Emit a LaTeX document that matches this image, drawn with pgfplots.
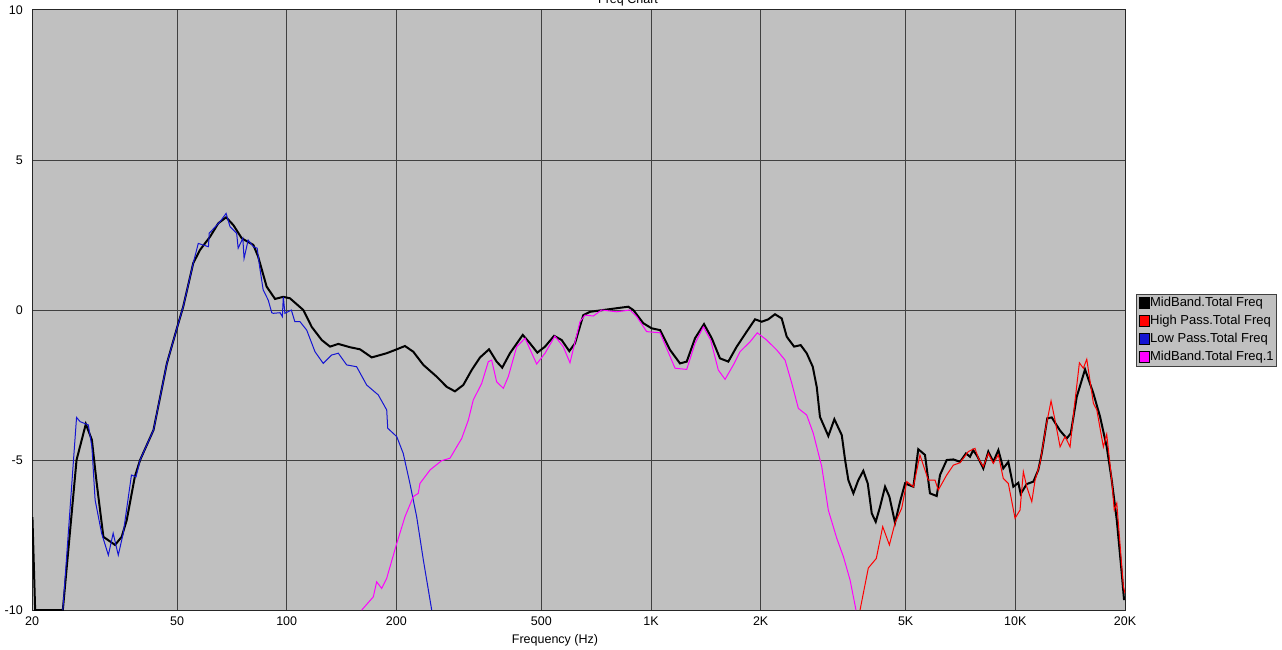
\documentclass[border=0pt]{standalone}
\usepackage{pgfplots}
\pgfplotsset{compat=1.18}
\usepackage{fontspec}
\setmainfont{Liberation Sans}

\definecolor{bgray}{HTML}{C0C0C0}
\definecolor{gridc}{HTML}{404040}
\definecolor{lpblue}{HTML}{1414D2}
\definecolor{hpred}{HTML}{FF0000}
\definecolor{mbmag}{HTML}{FF00FF}

\begin{document}
\fontsize{12.5bp}{15bp}\selectfont
\begin{tikzpicture}
\begin{axis}[
    name=ax,
    scale only axis, width=1093bp, height=600bp,
    xmode=log, xmin=20, xmax=20000, ymin=-10, ymax=10,
    xtick={20,50,100,200,500,1000,2000,5000,10000,20000},
    xticklabels={20,50,100,200,500,1K,2K,5K,10K,20K},
    xminorticks=false,
    ytick={-10,-5,0,5,10}, yticklabels={-10,-5,0,5,10},
    major tick length=0pt,
    grid=major, major grid style={gridc, line width=1bp},
    axis background/.style={fill=bgray},
    axis line style={black!85, line width=1bp},
    xticklabel style={inner sep=0pt, yshift=-7bp},
    yticklabel style={inner sep=0pt, xshift=-9bp},
    xlabel={Frequency (Hz)},
    xlabel style={at={(axis description cs:0.4785,0)}, anchor=north, yshift=-24bp, inner sep=0pt},
    legend cell align=left,
    legend style={at={(axis description cs:1.0101,0.5267)}, anchor=north west,
        draw=gridc, fill=bgray, line width=1bp,
        font=\fontsize{13bp}{16bp}\selectfont,
        inner xsep=2bp, inner ysep=2bp, row sep=4bp,
        nodes={inner sep=1bp, text height=9.5bp, text depth=2.5bp}},
    legend image code/.code={\filldraw[#1, draw=black, line width=0.6bp] (0bp,-5bp) rectangle (10bp,6bp);},
]

% MidBand.Total Freq
\addplot[black, line width=2bp] coordinates {
(20.05,-6.9) (20.4,-10) (24.3,-10) (26.5,-5.0) (28.1,-3.8) (29.2,-4.33) (30.1,-5.77)
(31.4,-7.56) (33.8,-7.83) (35.25,-7.56) (36.4,-7.0) (38.3,-5.56) (39.6,-5.0) (43.1,-4.0)
(46.9,-1.78) (50.1,-0.56) (52.0,0.11) (55.4,1.56) (57.8,2.0) (61.6,2.44) (64.9,2.89)
(68.2,3.09) (71.4,2.83) (75.3,2.39) (81,2.17) (83.5,1.78) (88.1,0.78) (92.9,0.37)
(97.9,0.44) (102.1,0.39) (111.1,0) (117.1,-0.56) (124.8,-1.0) (131.5,-1.22) (138.6,-1.13)
(149.2,-1.24) (159,-1.31) (171.2,-1.58) (188.2,-1.44) (200.5,-1.31) (211.2,-1.2)
(222.6,-1.39) (237.2,-1.83) (258,-2.22) (274.9,-2.56) (289.6,-2.71) (305.3,-2.5)
(322,-2.0) (339.5,-1.58) (359.3,-1.31) (377,-1.72) (390.6,-1.92) (410.1,-1.44)
(444.6,-0.83) (465.4,-1.11) (487.5,-1.42) (511.9,-1.22) (542,-0.86) (568.5,-1.0)
(596.6,-1.37) (618.6,-1.11) (651.9,-0.17) (680,-0.06) (739.7,0) (805.1,0.06) (866.2,0.11)
(894.3,0) (952.4,-0.44) (1004,-0.61) (1059,-0.67) (1128,-1.33) (1201,-1.78) (1253,-1.72)
(1321,-0.94) (1398,-0.47) (1468,-0.94) (1546,-1.61) (1630,-1.72) (1719,-1.22) (1831,-0.72)
(1930,-0.31) (2014,-0.39) (2099,-0.31) (2189,-0.14) (2284,-0.28) (2358,-0.89) (2470,-1.22)
(2575,-1.17) (2675,-1.44) (2779,-1.89) (2850,-2.56) (2909,-3.56) (3067,-4.2) (3186,-3.64)
(3339,-4.17) (3410,-5.0) (3481,-5.67) (3593,-6.11) (3707,-5.67) (3826,-5.36) (3935,-5.78)
(4036,-6.78) (4138,-7.06) (4253,-6.56) (4390,-5.89) (4511,-6.22) (4675,-7.09) (4825,-6.39)
(4981,-5.78) (5250,-5.89) (5415,-4.64) (5650,-4.83) (5830,-6.11) (6084,-6.2) (6212,-5.5)
(6481,-5.0) (6760,-4.98) (7050,-5.06) (7321,-4.78) (7510,-4.89) (7660,-4.67) (7863,-4.87)
(8168,-5.28) (8430,-4.72) (8700,-5.06) (8983,-4.67) (9265,-5.28) (9566,-5.06) (9873,-5.89)
(10190,-5.76) (10343,-6.13) (10748,-5.8) (11207,-5.72) (11561,-5.33) (11815,-4.78)
(12238,-3.61) (12587,-3.58) (13267,-4.02) (13840,-4.28) (14195,-4.11) (14743,-2.89)
(15533,-1.98) (16377,-2.78) (17086,-3.56) (17817,-4.56) (18392,-5.67) (18988,-7.0)
(19594,-8.78) (19886,-9.67)
};

% High Pass.Total Freq
\addplot[hpred, line width=1bp] coordinates {
(3748,-10) (3949,-8.6) (4153,-8.28) (4325,-7.22) (4511,-7.83) (4675,-7.1) (4878,-6.6)
(5035,-5.72) (5250,-5.89) (5472,-4.83) (5770,-5.67) (6019,-5.67) (6145,-6.0) (6481,-5.5)
(6760,-5.17) (7050,-5.09) (7429,-4.72) (7750,-4.61) (7914,-4.94) (8168,-5.22) (8430,-4.78)
(8700,-5.11) (8983,-4.83) (9265,-5.61) (9566,-5.78) (9981,-6.94) (10300,-6.67) (10519,-5.39)
(10748,-5.89) (11094,-6.39) (11328,-5.67) (11688,-5.11) (12135,-3.89) (12532,-3.03)
(12850,-3.67) (13267,-4.56) (13690,-4.22) (14133,-4.56) (14520,-3.22) (14990,-1.76)
(15370,-1.94) (15706,-1.64) (16377,-3.11) (16735,-3.33) (17442,-4.56) (17817,-4.14)
(18392,-5.67) (18685,-6.67) (18988,-6.44) (19797,-9.22) (20000,-9.44)
};

% Low Pass.Total Freq
\addplot[lpblue, line width=1bp] coordinates {
(24.3,-10) (26.5,-3.58) (27.1,-3.72) (28.55,-3.83) (29.2,-4.56) (29.8,-6.33) (31.05,-7.44)
(32.4,-8.17) (33.4,-7.44) (34.5,-8.17) (35.6,-7.44) (37.5,-5.5) (38.6,-5.56) (39.6,-5.0)
(43.1,-4.0) (46.9,-1.78) (50.1,-0.56) (52.0,0.11) (55.4,1.56) (57.2,2.22) (61,2.11)
(61.3,2.56) (65.6,2.94) (68.2,3.22) (69.9,2.78) (72.9,2.56) (73.6,2.06) (75.8,2.39)
(76.4,1.72) (78.4,2.33) (81,2.11) (83,2.06) (84.3,1.44) (86.2,0.67) (89,0.33) (91,-0.09)
(91.9,-0.11) (95.9,-0.09) (97.3,-0.22) (97.9,0.44) (98.9,-0.11) (103,0) (105.3,-0.39)
(108.8,-0.39) (113.5,-0.67) (119.6,-1.39) (126,-1.78) (132.9,-1.5) (138.6,-1.44)
(146.1,-1.83) (155.6,-1.89) (165.8,-2.5) (178.4,-2.83) (188.2,-3.33) (189.4,-3.94)
(200.5,-4.22) (208.9,-4.78) (217.9,-5.78) (227.4,-6.89) (237.2,-8.33) (250.1,-10)
};

% MidBand.Total Freq.1
\addplot[mbmag, line width=1bp] coordinates {
(160.7,-10) (172.9,-9.56) (176.6,-9.06) (182.3,-9.28) (188.2,-8.94) (200.5,-7.78)
(211.2,-6.89) (222.6,-6.22) (229.7,-6.11) (232.2,-5.78) (247.5,-5.33) (266.3,-5.02)
(280.7,-4.94) (302.3,-4.28) (315.2,-3.67) (325.2,-3.0) (343.1,-2.44) (357.7,-1.72)
(365.3,-1.67) (377,-2.39) (393.2,-2.61) (405.8,-2.22) (428,-1.22) (451.1,-0.94)
(485.4,-1.8) (511.9,-1.44) (544.7,-0.87) (574.2,-1.22) (599.2,-1.76) (638.4,-0.39)
(659,-0.17) (694.4,-0.2) (732,0) (805.1,-0.06) (875.5,0) (913.7,-0.22) (972.9,-0.72)
(1059,-0.76) (1164,-1.94) (1253,-1.98) (1321,-1.11) (1392,-0.56) (1458,-1.0) (1530,-2.0)
(1597,-2.31) (1683,-1.83) (1755,-1.39) (1870,-1.06) (1958,-0.76) (2077,-1.0) (2213,-1.33)
(2333,-1.67) (2434,-2.44) (2538,-3.28) (2675,-3.5) (2789,-4.11) (2942,-5.22) (3067,-6.67)
(3235,-7.61) (3373,-8.22) (3519,-9.0) (3653,-10)
};

\legend{MidBand.Total Freq, High Pass.Total Freq, Low Pass.Total Freq, MidBand.Total Freq.1}
\end{axis}
% chart title, mostly above the top edge as in the original
\node[anchor=base, inner sep=0pt] at ([shift={(596bp,6bp)}]ax.north west) {Freq Chart};
\pgfresetboundingbox
\path[use as bounding box] ([shift={(-32bp,-39bp)}]ax.south west) rectangle ([shift={(157bp,10bp)}]ax.north east);
\end{tikzpicture}
\end{document}
